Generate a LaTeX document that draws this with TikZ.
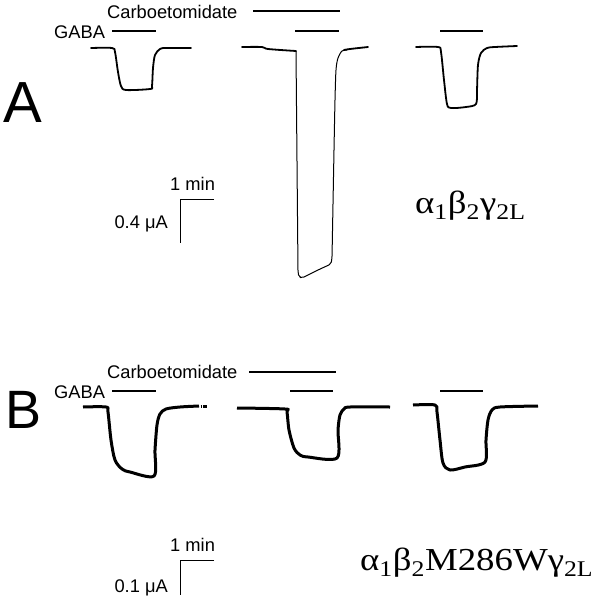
\documentclass[tikz,border=0pt]{standalone}
\usepackage{fontspec}
\setmainfont{Liberation Sans}
\newfontfamily\serifgr{Liberation Serif}
\tikzset{
  lbl/.style={inner sep=0pt, anchor=base west, font=\fontsize{18.3}{20}\selectfont},
  bar/.style={line width=2pt},
  tr/.style={line width=1.8pt, line join=round, line cap=round},
  trb/.style={line width=3pt, line join=round},
  thin/.style={line width=1pt},
  scl/.style={line width=0.9pt},
  gname/.style={inner sep=0pt, anchor=base west, font=\serifgr\fontsize{32}{34}\selectfont},
}
\newcommand{\gx}[1]{\scalebox{1.15}[1]{#1}}
\begin{document}
\begin{tikzpicture}[x=1pt,y=-1pt]
\useasboundingbox (0,0) rectangle (600,600);
% ---------- Panel A ----------
\node[inner sep=0pt, anchor=base west, font=\fontsize{58}{60}\selectfont] (labA) at (3,122) {A};
\node[lbl] (carbA) at (107,18) {Carboetomidate};
\node[lbl] (gabaA) at (54,38) {GABA};
\coordinate (cA1) at (253,11); \coordinate (cA2) at (340,11);
\draw[bar] (cA1) -- (cA2);
\coordinate (gA1a) at (112,31); \coordinate (gA1b) at (156,31);
\coordinate (gA2a) at (295,31); \coordinate (gA2b) at (339,31);
\coordinate (gA3a) at (440,31); \coordinate (gA3b) at (483,31);
\draw[bar] (gA1a) -- (gA1b);
\draw[bar] (gA2a) -- (gA2b);
\draw[bar] (gA3a) -- (gA3b);
% trace A1
\draw[tr] plot[smooth, tension=0.5] coordinates {(91,48) (112,48) (115,52) (118,72) (121,86) (126,90) (150,89) (152,86) (153,68) (155,55) (160,49) (166,48) (191,48)};
% trace A2
\draw[tr] plot[smooth, tension=0.5] coordinates {(242,47) (262,47) (268,49) (296,51)};
\draw[thin, line join=round, rounded corners=2pt] (296,51) -- (298,272) -- (299,277) -- (302,278) -- (318,270) -- (331,264) -- (332,258) -- (334,150);
\draw[thin] plot[smooth, tension=0.5] coordinates {(334,150) (335,100) (336,70) (338,58) (342,51) (347,50)};
\draw[tr] plot[smooth, tension=0.5] coordinates {(344,50) (350,49) (368,47)};
% trace A3
\draw[tr] plot[smooth, tension=0.5] coordinates {(416,47) (438,47) (441,52) (444,80) (447,104) (451,108) (466,107) (476,104) (477,90) (478,65) (481,53) (487,48) (495,47) (517,46)};
% scale bar A
\node[lbl] (minA) at (170,190) {1 min};
\node[lbl, anchor=base east] (uA) at (168,228) {0.4 μA};
\coordinate (sA0) at (180,199);
\draw[scl] (214,199) -- (sA0) -- (180,243);
\node[gname] (nameA) at (415,213) {\gx{α\textsubscript{1}β\textsubscript{2}γ\textsubscript{2L}}};
% ---------- Panel B ----------
\node[inner sep=0pt, anchor=base west, font=\fontsize{54}{56}\selectfont] (labB) at (5,428) {B};
\node[lbl] (carbB) at (107,378) {Carboetomidate};
\node[lbl] (gabaB) at (54,398) {GABA};
\coordinate (cB1) at (249,372); \coordinate (cB2) at (336,372);
\draw[bar] (cB1) -- (cB2);
\coordinate (gB1a) at (112,391); \coordinate (gB1b) at (156,391);
\coordinate (gB2a) at (290,391); \coordinate (gB2b) at (333,391);
\coordinate (gB3a) at (440,391); \coordinate (gB3b) at (483,391);
\draw[bar] (gB1a) -- (gB1b);
\draw[bar] (gB2a) -- (gB2b);
\draw[bar] (gB3a) -- (gB3b);
% trace B1
\draw[trb] plot[smooth, tension=0.5] coordinates {(83,407) (106,407) (108,412) (111,440) (115,460) (122,469) (130,472) (154,476) (155,450) (157,425) (160,414) (166,409) (180,407) (199,406)};
\draw[trb] (200.5,406) -- (201.5,406);
\draw[trb] (203,406) -- (207,406);
% trace B2
\draw[trb] plot[smooth, tension=0.5] coordinates {(237,408) (285,409) (287,412) (289,430) (294,448) (300,455) (308,457) (337,458) (338,430) (340,415) (344,409) (350,407) (390,407)};
% trace B3
\draw[trb] plot[smooth, tension=0.5] coordinates {(413,405) (435,405) (437,412) (440,440) (443,463) (450,470) (465,467) (485,462) (486,440) (488,420) (492,410) (500,407) (538,406)};
% scale bar B
\node[lbl] (minB) at (170,551) {1 min};
\node[lbl, anchor=base east] (uB) at (168,592) {0.1 μA};
\coordinate (sB0) at (180,560);
\draw[scl] (214,560) -- (sB0) -- (180,595);
\node[gname] (nameB) at (360,570) {\gx{α\textsubscript{1}β\textsubscript{2}M286Wγ\textsubscript{2L}}};
\end{tikzpicture}
\end{document}
